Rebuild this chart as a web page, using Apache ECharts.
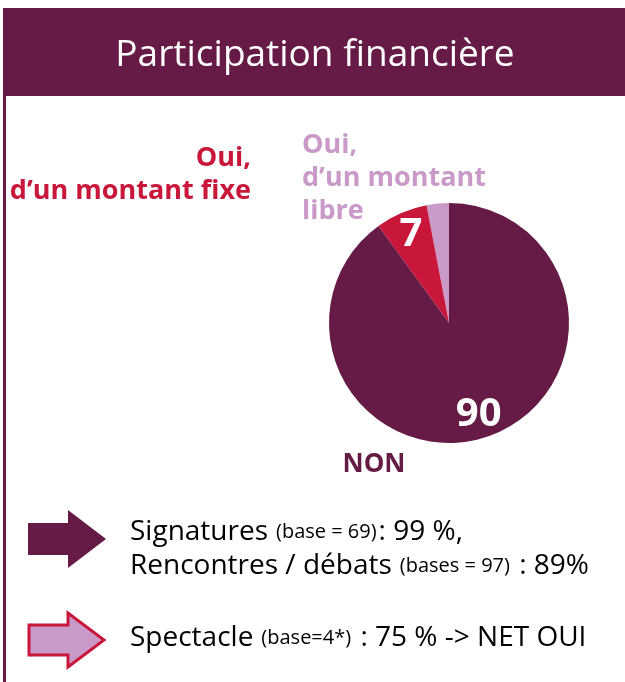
<!DOCTYPE html>
<html>
<head>
<meta charset="utf-8">
<script src="https://cdn.jsdelivr.net/npm/echarts@6/dist/echarts.min.js"></script>
<style>
  html, body { margin: 0; padding: 0; background: #fff; }
  #chart { width: 625px; height: 682px; }
</style>
</head>
<body>
<div id="chart"></div>
<script>
// data
var categories = ['Oui, d\u2019un montant libre', 'Oui, d\u2019un montant fixe', 'NON'];
var values = [3, 7, 90];
var shownLabels = ['', '7', '90'];
var sliceColors = ['#c99ac8', '#c8173a', '#661b46'];

var maroon = '#661b46';
var font = '"Open Sans", sans-serif';

var chart = echarts.init(document.getElementById('chart'));

var pieData = categories.map(function (name, i) {
  return { name: name, value: values[i], itemStyle: { color: sliceColors[i] } };
});
var labelData = categories.map(function (name, i) {
  return { name: name, value: values[i], label: { formatter: shownLabels[i] } };
});

var richStyle = {
  a: { fontSize: 28, fontFamily: font, color: '#333' },
  s: { fontSize: 20, fontFamily: font, color: '#333', padding: [0, 2, 0, 8] }
};

chart.setOption({
  animation: false,
  series: [
    {
      type: 'pie',
      center: [449, 323],
      radius: [0, 120],
      startAngle: 90,
      clockwise: false,
      silent: true,
      label: { show: false },
      labelLine: { show: false },
      data: pieData
    },
    {
      // transparent ring only used to place the value labels
      type: 'pie',
      center: [449, 323],
      radius: [66, 120],
      startAngle: 90,
      clockwise: false,
      silent: true,
      itemStyle: { color: 'rgba(0,0,0,0)' },
      label: {
        show: true,
        position: 'inside',
        color: '#fff',
        fontFamily: font,
        fontWeight: 'bold',
        fontSize: 40
      },
      labelLine: { show: false },
      data: labelData
    }
  ],
  graphic: [
    { type: 'rect', shape: { x: 3, y: 8, width: 622, height: 88 }, style: { fill: maroon } },
    { type: 'rect', shape: { x: 3, y: 8, width: 3, height: 674 }, style: { fill: maroon } },
    {
      type: 'text', x: 315, y: 55,
      style: { text: 'Participation financi\u00e8re', fill: '#fff', font: '37px ' + font, textAlign: 'center', textVerticalAlign: 'middle' }
    },
    {
      type: 'text', x: 251, y: 175,
      style: { text: 'Oui,\nd\u2019un montant fixe', fill: '#c8173a', font: 'bold 27px ' + font, textAlign: 'right', textVerticalAlign: 'middle', lineHeight: 33 }
    },
    {
      type: 'text', x: 302, y: 178,
      style: { text: 'Oui,\nd\u2019un montant\nlibre', fill: '#c99ac8', font: 'bold 27px ' + font, textAlign: 'left', textVerticalAlign: 'middle', lineHeight: 33 }
    },
    {
      type: 'text', x: 374, y: 465,
      style: { text: 'NON', fill: maroon, font: 'bold 26px ' + font, textAlign: 'center', textVerticalAlign: 'middle' }
    },
    {
      type: 'polygon',
      shape: { points: [[28, 523], [68, 523], [68, 510], [106, 539], [68, 568], [68, 555], [28, 555]] },
      style: { fill: maroon }
    },
    {
      type: 'polygon',
      shape: { points: [[29, 625], [68, 625], [68, 613], [104, 640], [68, 667], [68, 655], [29, 655]] },
      style: { fill: '#c99ac8', stroke: '#c8173a', lineWidth: 3 }
    },
    {
      type: 'text', x: 130, y: 532,
      style: { text: '{a|Signatures}{s|(base = 69)}{a|: 99 %,}', textVerticalAlign: 'middle', rich: richStyle }
    },
    {
      type: 'text', x: 130, y: 566,
      style: { text: '{a|Rencontres / d\u00e9bats}{s|(bases = 97)}{a| : 89%}', textVerticalAlign: 'middle', rich: richStyle }
    },
    {
      type: 'text', x: 130, y: 638,
      style: { text: '{a|Spectacle}{s|(base=4*)}{a| : 75 % -> NET OUI}', textVerticalAlign: 'middle', rich: richStyle }
    }
  ]
});
</script>
</body>
</html>
